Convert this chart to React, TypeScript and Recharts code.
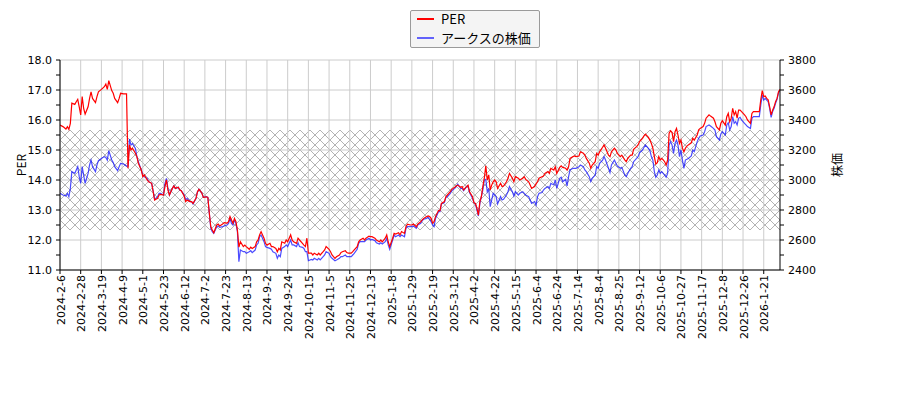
import React from "react";
import {
  ComposedChart,
  Line,
  XAxis,
  YAxis,
  ReferenceLine,
  ReferenceArea,
} from "recharts";

// trading-day index of each sampled point (0 = 2024-2-6)
const dayIndex = [
  0, 2, 4, 5, 6, 7, 8, 10, 11, 12,
  13, 14, 15, 16, 17, 19, 20, 21, 22, 24,
  25, 26, 28, 30, 31, 32, 33, 35, 36, 37,
  39, 40, 41, 43, 45, 46, 47, 48, 49, 51,
  52, 53, 55, 56, 57, 59, 60, 62, 63, 64,
  66, 67, 68, 70, 71, 72, 73, 74, 76, 77,
  78, 80, 81, 82, 84, 85, 86, 88, 89, 90,
  92, 93, 94, 96, 97, 99, 100, 101, 102, 103,
  104, 106, 107, 108, 110, 111, 113, 114, 115, 116,
  117, 118, 119, 120, 121,
  122, 124, 125, 126, 128, 129, 130, 132, 133, 134,
  135, 136, 138, 139, 140, 142, 143, 144, 146, 147,
  148, 149, 150, 152, 153, 154, 156, 157, 158, 160,
  161, 162, 164, 165, 166, 167, 168, 170, 171, 172,
  174, 175, 176, 178, 179, 180, 182, 183, 184, 186,
  187, 189, 190, 191, 193, 194, 195, 197, 198, 199,
  201, 202, 203, 205, 206, 207, 209, 210, 211, 213,
  214, 216, 217, 218, 220, 221, 222, 223, 225, 226,
  227, 229, 230, 231, 233, 234, 235, 237, 238, 239,
  241, 242, 244,
  245, 246, 248, 249, 250, 251, 252, 253, 254, 256,
  257, 258, 260, 261, 262, 264, 265, 267, 268, 269,
  271, 272, 273, 275, 276, 277, 279, 280, 281, 282,
  283, 284, 285, 286, 287, 288, 289, 290, 291, 292,
  293, 294, 295, 296, 298, 299, 300, 302, 303, 304,
  306, 307, 308, 310, 311, 313, 314, 315, 317, 318,
  319, 321, 322, 323, 324, 326, 327, 328, 330, 331,
  332, 334, 335, 336, 338, 339, 340, 342, 343, 344,
  345, 347, 348, 349, 351, 352, 354, 355, 356, 358,
  359, 360, 362, 363, 364,
  365, 367, 368, 369, 371, 372, 373, 375, 376, 377,
  379, 380, 382, 383, 384, 386, 387, 388, 390, 391,
  392, 394, 395, 396, 398, 399, 400, 401, 402, 403,
  404, 405, 406, 407, 408, 409, 410, 411, 412, 413,
  414, 415, 416, 417, 418, 419, 420, 421, 422, 423,
  424, 425, 427, 428, 429, 431, 432, 433, 435, 436,
  437, 439, 440, 442, 443, 444, 446, 447, 448, 450,
  451, 452, 453, 454, 455, 456, 457, 458, 459, 460,
  461, 463, 464, 465, 467, 468, 469, 470, 472, 473,
  474, 475, 476, 477, 478, 479, 480, 481, 482, 483,
  484, 485, 486, 487,
];

const perValues = [
  15.83, 15.78, 15.7, 15.78, 15.69, 15.89, 16.56, 16.52, 16.61, 16.69,
  16.44, 16.17, 16.78, 16.39, 16.2, 16.44, 16.72, 16.94, 16.72, 16.58,
  16.78, 16.94, 17.02, 17.11, 17.2, 17.02, 17.31, 16.98, 16.89, 16.72,
  16.58, 16.72, 16.89, 16.87, 16.87, 14.39, 15.17, 15.0, 15.06, 14.89,
  14.78, 14.56, 14.33, 14.11, 14.17, 14.0, 13.94, 13.89, 13.61, 13.33,
  13.39, 13.5, 13.52, 13.5, 13.78, 14.0, 13.67, 13.5, 13.72, 13.8,
  13.72, 13.76, 13.67, 13.64, 13.47, 13.28, 13.33, 13.28, 13.28, 13.22,
  13.39, 13.61, 13.69, 13.56, 13.42, 13.44, 13.42, 12.89, 12.44, 12.33,
  12.24, 12.5, 12.53, 12.47, 12.53, 12.58, 12.56, 12.61, 12.78, 12.67,
  12.56, 12.72, 12.61, 12.33, 11.76,
  11.94, 11.78, 11.83, 11.78, 11.69, 11.76, 11.72, 11.78, 11.94, 12.0,
  12.17, 12.28, 12.06, 11.89, 11.83, 11.89, 11.78, 11.78, 11.72, 11.61,
  11.72, 11.67, 11.94, 11.89, 12.0, 11.94, 12.17, 12.0, 11.94, 11.89,
  12.06, 12.0, 11.89, 11.83, 11.78, 12.06, 11.56, 11.56, 11.5, 11.56,
  11.5, 11.56, 11.5, 11.61, 11.67, 11.78, 11.69, 11.61, 11.5, 11.39,
  11.44, 11.5, 11.58, 11.61, 11.64, 11.58, 11.56, 11.56, 11.61, 11.67,
  11.78, 11.94, 12.0, 12.06, 12.0, 12.06, 12.13, 12.11, 12.11, 12.06,
  12.0, 11.94, 12.0, 11.94, 12.06, 12.17, 11.94, 11.78, 12.06, 12.22,
  12.2, 12.24, 12.17, 12.28, 12.22, 12.44, 12.53, 12.5, 12.5, 12.53,
  12.44, 12.53, 12.61,
  12.67, 12.72, 12.78, 12.8, 12.78, 12.72, 12.56, 12.61, 12.78, 12.98,
  12.98, 13.22, 13.28, 13.44, 13.5, 13.61, 13.69, 13.76, 13.8, 13.83,
  13.76, 13.78, 13.67, 13.78, 13.83, 13.61, 13.44, 13.24, 13.22, 13.06,
  12.83, 13.28, 13.44, 13.78, 14.06, 14.47, 14.0, 14.17, 13.67, 13.83,
  13.94, 14.0, 13.94, 13.72, 13.89, 13.78, 13.8, 13.94, 14.06, 14.22,
  14.06, 13.94, 14.11, 14.06, 14.0, 14.06, 14.11, 14.02, 13.94, 13.83,
  13.72, 13.78, 13.87, 13.94, 14.06, 14.11, 14.13, 14.22, 14.28, 14.22,
  14.39, 14.33, 14.44, 14.22, 14.42, 14.47, 14.42, 14.39, 14.33, 14.44,
  14.72, 14.78, 14.8, 14.78, 14.8, 14.94, 14.89, 14.83, 14.72, 14.56,
  14.39, 14.5, 14.61, 14.89, 14.83,
  14.94, 15.09, 15.17, 15.06, 14.83, 14.78, 14.94, 15.06, 15.0, 14.89,
  14.78, 14.83, 14.67, 14.61, 14.72, 14.83, 14.83, 15.02, 15.11, 15.17,
  15.28, 15.39, 15.47, 15.53, 15.42, 15.33, 15.22, 15.06, 14.78, 14.53,
  14.58, 14.78, 14.67, 14.72, 14.67, 14.61, 14.5, 14.67, 15.56, 15.64,
  15.58, 15.28, 15.61, 15.72, 15.5, 15.22, 15.33, 15.06, 14.94, 15.06,
  15.13, 15.17, 15.24, 15.39, 15.33, 15.5, 15.67, 15.72, 15.78, 15.89,
  16.06, 16.17, 16.13, 16.06, 15.94, 15.78, 15.67, 15.89, 15.98, 15.83,
  16.11, 16.22, 15.94, 16.06, 16.39, 16.17, 16.28, 16.06, 16.33, 16.33,
  16.28, 16.17, 16.11, 16.0, 15.89, 16.22, 16.28, 16.28, 16.28, 16.28,
  16.67, 16.98, 16.78, 16.8, 16.72, 16.67, 16.44, 16.17, 16.33, 16.44,
  16.61, 16.72, 16.94, 17.02,
];

const priceValues = [
  2911, 2900, 2893, 2911, 2889, 2944, 3056, 3044, 3067, 3089,
  3022, 2978, 3089, 3033, 2978, 3044, 3100, 3133, 3089, 3056,
  3100, 3129, 3144, 3156, 3151, 3133, 3196, 3133, 3116, 3089,
  3062, 3089, 3111, 3107, 3093, 3093, 3273, 3233, 3244, 3211,
  3156, 3122, 3067, 3033, 3022, 3011, 2989, 2978, 2929, 2871,
  2889, 2911, 2911, 2900, 2978, 3011, 2944, 2900, 2944, 2960,
  2944, 2951, 2933, 2929, 2900, 2867, 2878, 2856, 2856, 2840,
  2878, 2922, 2938, 2911, 2884, 2889, 2884, 2778, 2678, 2656,
  2644, 2689, 2693, 2684, 2689, 2693, 2700, 2711, 2744, 2711,
  2700, 2733, 2711, 2656, 2455,
  2533, 2522, 2522, 2511, 2522, 2529, 2516, 2533, 2567, 2578,
  2622, 2633, 2589, 2556, 2551, 2544, 2538, 2522, 2511, 2478,
  2500, 2489, 2544, 2556, 2567, 2556, 2600, 2567, 2567, 2556,
  2582, 2556, 2551, 2544, 2522, 2522, 2462, 2471, 2467, 2478,
  2467, 2478, 2467, 2489, 2500, 2522, 2511, 2489, 2478, 2462,
  2467, 2478, 2489, 2489, 2500, 2489, 2489, 2489, 2500, 2511,
  2538, 2578, 2589, 2589, 2589, 2600, 2611, 2600, 2604, 2596,
  2582, 2573, 2582, 2573, 2589, 2611, 2567, 2538, 2600, 2633,
  2622, 2633, 2622, 2633, 2622, 2678, 2689, 2689, 2689, 2693,
  2678, 2700, 2711,
  2729, 2738, 2744, 2751, 2738, 2722, 2700, 2689, 2744, 2789,
  2789, 2840, 2849, 2884, 2889, 2911, 2929, 2944, 2956, 2973,
  2944, 2944, 2929, 2956, 2960, 2916, 2878, 2849, 2840, 2800,
  2760, 2844, 2889, 2933, 3000, 3004, 2922, 2944, 2822, 2867,
  2911, 2900, 2889, 2840, 2889, 2867, 2871, 2900, 2922, 2956,
  2922, 2893, 2922, 2900, 2911, 2922, 2911, 2900, 2889, 2867,
  2844, 2856, 2833, 2889, 2911, 2916, 2933, 2944, 2956, 2944,
  2978, 2967, 3000, 2944, 3011, 3018, 2989, 3004, 2960, 3022,
  3067, 3078, 3078, 3078, 3089, 3100, 3089, 3067, 3056, 3022,
  2989, 3011, 3033, 3089, 3078,
  3111, 3133, 3156, 3133, 3078, 3049, 3100, 3133, 3111, 3093,
  3078, 3084, 3033, 3022, 3044, 3078, 3089, 3122, 3144, 3156,
  3182, 3200, 3218, 3233, 3211, 3196, 3156, 3133, 3056, 3018,
  3033, 3067, 3044, 3056, 3044, 3033, 3018, 3044, 3233, 3256,
  3233, 3178, 3244, 3267, 3233, 3156, 3200, 3133, 3078, 3133,
  3138, 3144, 3160, 3200, 3189, 3256, 3278, 3293, 3300, 3322,
  3356, 3367, 3360, 3344, 3333, 3289, 3267, 3307, 3322, 3300,
  3367, 3382, 3333, 3356, 3422, 3378, 3389, 3367, 3411, 3418,
  3400, 3378, 3367, 3356, 3344, 3411, 3422, 3422, 3422, 3422,
  3500, 3567, 3533, 3544, 3533, 3522, 3478, 3418, 3456, 3478,
  3511, 3538, 3582, 3600,
];

const tickLabels = [
  "2024-2-6", "2024-2-28", "2024-3-19", "2024-4-9", "2024-5-1",
  "2024-5-23", "2024-6-12", "2024-7-2", "2024-7-23", "2024-8-13",
  "2024-9-2", "2024-9-24", "2024-10-15", "2024-11-5", "2024-11-25",
  "2024-12-13", "2025-1-8", "2025-1-29", "2025-2-19", "2025-3-12",
  "2025-4-2", "2025-4-22", "2025-5-15", "2025-6-4", "2025-6-24",
  "2025-7-14", "2025-8-4", "2025-8-25", "2025-9-12", "2025-10-6",
  "2025-10-27", "2025-11-17", "2025-12-8", "2025-12-26", "2026-1-21",
];
const tickIdx = [
  0, 14, 28, 42, 56, 70, 84, 98, 112, 126,
  140, 154, 168, 182, 196, 210, 224, 238, 252, 266,
  280, 294, 308, 322, 336, 350, 364, 378, 392, 406,
  420, 434, 448, 462, 476,
];

const perTicks = [11, 11.5, 12, 12.5, 13, 13.5, 14, 14.5, 15, 15.5, 16, 16.5, 17, 17.5, 18];
const perMajor = [11, 12, 13, 14, 15, 16, 17, 18];
const priceTicks = [2400, 2500, 2600, 2700, 2800, 2900, 3000, 3100, 3200, 3300, 3400, 3500, 3600, 3700, 3800];
const priceMajor = [2400, 2600, 2800, 3000, 3200, 3400, 3600, 3800];

// hatched PER band
const bandLow = 12.33;
const bandHigh = 15.67;

const data = dayIndex.map((d, k) => ({ d, per: perValues[k], price: priceValues[k] }));

const TICK_FONT = "'DejaVu Sans', sans-serif";
const JP_FONT = "'Noto Sans CJK JP', 'DejaVu Sans', sans-serif";

const LeftTick = (props: any) => {
  const { x, y, payload } = props;
  if (!perMajor.includes(payload.value)) return <g />;
  return (
    <text x={x} y={y} textAnchor="end" dominantBaseline="central" fontSize={11} fontFamily={TICK_FONT} fill="#000">
      {payload.value.toFixed(1)}
    </text>
  );
};

const RightTick = (props: any) => {
  const { x, y, payload } = props;
  if (!priceMajor.includes(payload.value)) return <g />;
  return (
    <text x={x} y={y} textAnchor="start" dominantBaseline="central" fontSize={11} fontFamily={TICK_FONT} fill="#000">
      {payload.value}
    </text>
  );
};

const BottomTick = (props: any) => {
  const { x, y, payload } = props;
  const k = tickIdx.indexOf(payload.value);
  const label = k >= 0 ? tickLabels[k] : "";
  const cx = x + 1;
  return (
    <text
      x={cx}
      y={y}
      transform={`rotate(-90 ${cx} ${y})`}
      textAnchor="end"
      dominantBaseline="central"
      fontSize={11}
      fontFamily={TICK_FONT}
      fill="#000"
    >
      {label}
    </text>
  );
};

const AxisTitle = (dx: number, text: string) => (props: any) => {
  const vb = props.viewBox || { x: 0, y: 0, width: 0, height: 0 };
  const cx = vb.x + dx;
  const cy = vb.y + vb.height / 2;
  return (
    <text
      x={cx}
      y={cy}
      transform={`rotate(-90 ${cx} ${cy})`}
      textAnchor="middle"
      dominantBaseline="central"
      fontSize={12}
      fontFamily={JP_FONT}
      fill="#000"
    >
      {text}
    </text>
  );
};

export default function App() {
  return (
    <div style={{ position: "absolute", left: 0, top: 0, width: 900, height: 400, background: "#fff" }}>
      <ComposedChart width={900} height={400} data={data} margin={{ top: 60, right: 0, bottom: 90, left: 0 }}>
        <defs>
          <pattern id="xhatch" width="10" height="10" patternUnits="userSpaceOnUse">
            <path d="M0,0 L10,10 M10,0 L0,10" stroke="#a0a0a0" strokeWidth={0.8} fill="none" />
          </pattern>
        </defs>
        <XAxis
          dataKey="d"
          type="number"
          domain={[0, 487]}
          ticks={tickIdx}
          interval={0}
          allowDataOverflow
          height={40}
          tickSize={4}
          tickMargin={1}
          tick={<BottomTick />}
          stroke="#000"
          tickLine={{ stroke: "#000" }}
          axisLine={{ stroke: "#000" }}
        />
        <YAxis
          yAxisId="left"
          orientation="left"
          width={60}
          domain={[11, 18]}
          ticks={perTicks}
          interval={0}
          allowDataOverflow
          tickSize={4}
          tickMargin={4}
          tick={<LeftTick />}
          tickLine={{ stroke: "#000" }}
          axisLine={{ stroke: "#000" }}
          label={{ content: AxisTitle(20, "PER") }}
        />
        <YAxis
          yAxisId="right"
          orientation="right"
          width={120}
          domain={[2400, 3800]}
          ticks={priceTicks}
          interval={0}
          allowDataOverflow
          tickSize={4}
          tickMargin={4}
          tick={<RightTick />}
          tickLine={{ stroke: "#000" }}
          axisLine={{ stroke: "#000" }}
          label={{ content: AxisTitle(56, "株価") }}
        />
        <ReferenceArea
          yAxisId="left"
          y1={bandLow}
          y2={bandHigh}
          fill="url(#xhatch)"
          fillOpacity={1}
          stroke="none"
          ifOverflow="hidden"
        />
        {perMajor.map((v) => (
          <ReferenceLine key={"h" + v} yAxisId="left" y={v} stroke="#cccccc" strokeWidth={1} />
        ))}
        {tickIdx.map((t) => (
          <ReferenceLine key={"v" + t} yAxisId="left" x={t} stroke="#cccccc" strokeWidth={1} />
        ))}
        <Line
          yAxisId="right"
          dataKey="price"
          type="linear"
          stroke="#0000ff"
          strokeOpacity={0.7}
          strokeWidth={1.2}
          dot={false}
          activeDot={false}
          isAnimationActive={false}
        />
        <Line
          yAxisId="left"
          dataKey="per"
          type="linear"
          stroke="#ff0000"
          strokeWidth={1.2}
          dot={false}
          activeDot={false}
          isAnimationActive={false}
        />
      </ComposedChart>
      <div
        style={{
          position: "absolute",
          left: 410,
          top: 10,
          width: 128,
          height: 36,
          border: "1px solid #9a9a9a",
          background: "#f4f4f4",
          borderRadius: 2,
          fontFamily: JP_FONT,
          fontSize: 13,
          color: "#000",
        }}
      >
        <div style={{ position: "absolute", left: 6, top: 7, width: 17, height: 2, background: "#ff0000" }} />
        <div style={{ position: "absolute", left: 30, top: 0, height: 16, lineHeight: "16px", whiteSpace: "nowrap" }}>PER</div>
        <div style={{ position: "absolute", left: 6, top: 26, width: 17, height: 2, background: "#0000ff", opacity: 0.6 }} />
        <div style={{ position: "absolute", left: 30, top: 19, height: 16, lineHeight: "16px", whiteSpace: "nowrap" }}>アークスの株価</div>
      </div>
    </div>
  );
}
